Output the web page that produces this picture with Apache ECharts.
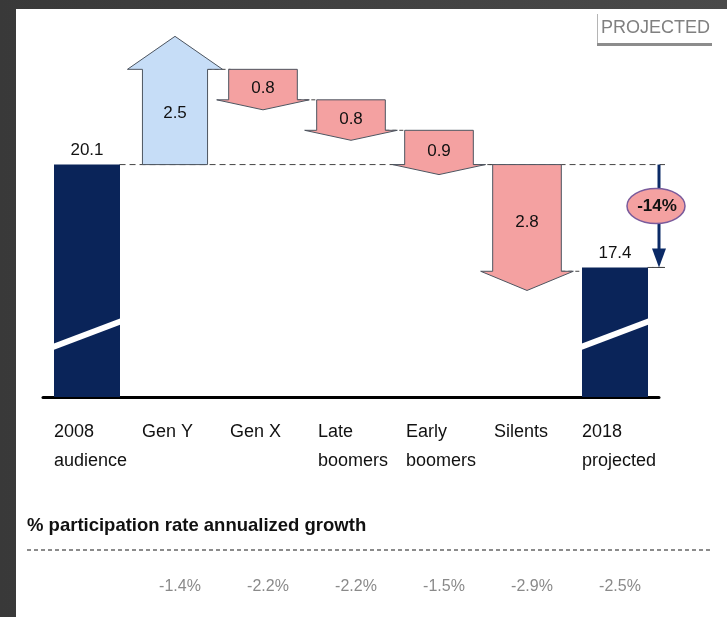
<!DOCTYPE html>
<html>
<head>
<meta charset="utf-8">
<style>
  html, body { margin: 0; padding: 0; background: #3d3d3d; }
  #chart { width: 727px; height: 617px; }
</style>
<script src="https://cdn.jsdelivr.net/npm/echarts@6/dist/echarts.min.js"></script>
</head>
<body>
<div id="chart"></div>
<script>
var myChart = echarts.init(document.getElementById('chart'));

var FONT = "'Liberation Sans', Arial, sans-serif";

// categories along the bottom
var categories = ['2008\naudience', 'Gen Y', 'Gen X', 'Late\nboomers', 'Early\nboomers', 'Silents', '2018\nprojected'];
// audience totals (millions) for the two end bars
var totals = [20.1, null, null, null, null, null, 17.4];
// change per generation
var deltas = [null, 2.5, -0.8, -0.8, -0.9, -2.8, null];
// % participation rate annualized growth
var growth = ['', '-1.4%', '-2.2%', '-2.2%', '-1.5%', '-2.9%', '-2.5%'];
var changeLabel = '-14%';

// waterfall steps: [index, start, end]
var steps = [];
var level = totals[0];
for (var i = 0; i < deltas.length; i++) {
    if (deltas[i] === null) continue;
    steps.push([i, level, level + deltas[i]]);
    level = level + deltas[i];
}
var lastIdx = categories.length - 1;

function arrowItem(params, api) {
    var a = api.coord([api.value(0), api.value(1)]);
    var b = api.coord([api.value(0), api.value(2)]);
    var band = api.size([1, 0])[0];
    var cx = a[0], y0 = a[1], y1 = b[1];
    var up = y1 < y0;
    var h = band * (up ? 0.37 : 0.39);
    var w = up ? 15 : 12;
    var head = up ? 33 : Math.max(10, Math.abs(y1 - y0) * 0.18);
    var pts = up ?
        [[cx - h, y0], [cx - h, y1], [cx - h - w, y1], [cx, y1 - head], [cx + h + w, y1], [cx + h, y1], [cx + h, y0]] :
        [[cx - h, y0], [cx + h, y0], [cx + h, y1], [cx + h + w, y1], [cx, y1 + head], [cx - h - w, y1], [cx - h, y1]];
    var labelY = up ? (y0 + y1) / 2 - 4 : (y0 + y1) / 2 + 4;
    return {
        type: 'group',
        children: [{
            type: 'line',
            shape: { x1: cx + h, y1: y1, x2: cx + band - band * 0.37, y2: y1 },
            style: { stroke: '#444', lineWidth: 1, lineDash: [4, 3] }
        }, {
            type: 'polygon',
            shape: { points: pts },
            style: { fill: up ? '#c6ddf7' : '#f4a1a1', stroke: '#4d5560', lineWidth: 1 }
        }, {
            type: 'text',
            style: {
                text: Math.abs(api.value(2) - api.value(1)).toFixed(1),
                x: cx, y: labelY, align: 'center', verticalAlign: 'middle',
                fontSize: 17, fontFamily: FONT, fill: '#111'
            }
        }]
    };
}

function breakItem(params, api) {
    var base = api.coord([api.value(0), 14]);
    var cx = base[0], by = base[1];
    return {
        type: 'line',
        shape: { x1: cx - 42, y1: by - 47, x2: cx + 40, y2: by - 78 },
        style: { stroke: '#fff', lineWidth: 6 }
    };
}

function guideItem(params, api) {
    var p = api.coord([api.value(0), api.value(1)]);
    var band = api.size([1, 0])[0];
    var right = params.coordSys.x + params.coordSys.width + 6;
    return {
        type: 'line',
        shape: { x1: p[0] + band * 0.37, y1: p[1], x2: right, y2: p[1] },
        style: { stroke: '#444', lineWidth: 1, lineDash: [6, 4] }
    };
}

function changeItem(params, api) {
    var a = api.coord([api.value(0), api.value(1)]);
    var b = api.coord([api.value(0), api.value(2)]);
    var x = params.coordSys.x + params.coordSys.width;
    var y0 = a[1], y1 = b[1];
    var mid = (y0 + y1) / 2 - 10;
    return {
        type: 'group',
        children: [{
            type: 'line',
            shape: { x1: x - 7, y1: y1, x2: x + 6, y2: y1 },
            style: { stroke: '#444', lineWidth: 1 }
        }, {
            type: 'line',
            shape: { x1: x, y1: y0, x2: x, y2: y1 - 16 },
            style: { stroke: '#0b2a66', lineWidth: 3 }
        }, {
            type: 'polygon',
            shape: { points: [[x - 7, y1 - 19], [x + 7, y1 - 19], [x, y1]] },
            style: { fill: '#0b2a66' }
        }, {
            type: 'ellipse',
            shape: { cx: x - 3, cy: mid, rx: 29, ry: 17.5 },
            style: { fill: '#f4a1a1', stroke: '#7a5b9c', lineWidth: 1.5 }
        }, {
            type: 'text',
            style: {
                text: changeLabel, x: x - 2, y: mid, align: 'center', verticalAlign: 'middle',
                fontSize: 17, fontWeight: 'bold', fontFamily: FONT, fill: '#111'
            }
        }]
    };
}

var option = {
    backgroundColor: new echarts.graphic.LinearGradient(1, 0, 0, 0, [
        { offset: 0, color: '#4a4a4a' }, { offset: 1, color: '#393939' }
    ]),
    animation: false,
    grid: { left: 43, right: 68, top: 16, bottom: 220 },
    graphic: [
        { type: 'rect', z: -10, shape: { x: 16, y: 9, width: 711, height: 608 }, style: { fill: '#fff' } },
        { type: 'line', shape: { x1: 597.5, y1: 14, x2: 597.5, y2: 45 }, style: { stroke: '#b5b5b5', lineWidth: 1 } },
        { type: 'rect', shape: { x: 597, y: 43, width: 115, height: 3 }, style: { fill: '#8c8c8c' } },
        { type: 'text', style: { text: 'PROJECTED', x: 710, y: 28, align: 'right', verticalAlign: 'middle', fontSize: 18, fontFamily: FONT, fill: '#808080' } },
        { type: 'text', style: { text: '% participation rate annualized growth', x: 27, y: 526, verticalAlign: 'middle', fontSize: 18.5, fontWeight: 'bold', fontFamily: FONT, fill: '#111' } },
        { type: 'line', shape: { x1: 27, y1: 550, x2: 712, y2: 550 }, style: { stroke: '#666', lineWidth: 1.5, lineDash: [4, 3] } }
    ],
    xAxis: [{
        type: 'category',
        data: categories,
        axisTick: { show: false },
        axisLine: { lineStyle: { color: '#000', width: 3 } },
        axisLabel: {
            interval: 0,
            margin: 21,
            formatter: function (v) {
                return v.split('\n').map(function (s) { return '{a|' + s + '}'; }).join('\n');
            },
            rich: { a: { width: 66, align: 'left', fontSize: 18, lineHeight: 29, fontFamily: FONT, color: '#111' } }
        }
    }, {
        type: 'category',
        data: categories,
        position: 'bottom',
        axisTick: { show: false },
        axisLine: { show: false },
        axisLabel: {
            interval: 0,
            margin: 182,
            padding: [0, 0, 0, 10],
            formatter: function (v, idx) { return growth[idx]; },
            fontSize: 16, fontFamily: FONT, color: '#8a8a8a'
        }
    }],
    yAxis: { type: 'value', min: 14, max: 24, show: false },
    series: [{
        type: 'custom',
        name: 'guides',
        renderItem: guideItem,
        data: [[0, totals[0]], [lastIdx, totals[lastIdx]]],
        z: 1
    }, {
        type: 'bar',
        name: 'total',
        data: totals.map(function (v) { return v === null ? '-' : v; }),
        barWidth: 66,
        itemStyle: { color: '#0a2459' },
        label: { show: true, position: 'top', distance: 6, fontSize: 17, fontFamily: FONT, color: '#111' },
        z: 2
    }, {
        type: 'custom',
        name: 'breaks',
        renderItem: breakItem,
        data: [[0, totals[0]], [lastIdx, totals[lastIdx]]],
        z: 3
    }, {
        type: 'custom',
        name: 'steps',
        renderItem: arrowItem,
        encode: { x: 0, y: [1, 2] },
        data: steps,
        z: 4
    }, {
        type: 'custom',
        name: 'change',
        renderItem: changeItem,
        encode: { x: 0, y: [1, 2] },
        data: [[lastIdx, totals[0], totals[lastIdx]]],
        z: 5
    }]
};

myChart.setOption(option);
</script>
</body>
</html>
